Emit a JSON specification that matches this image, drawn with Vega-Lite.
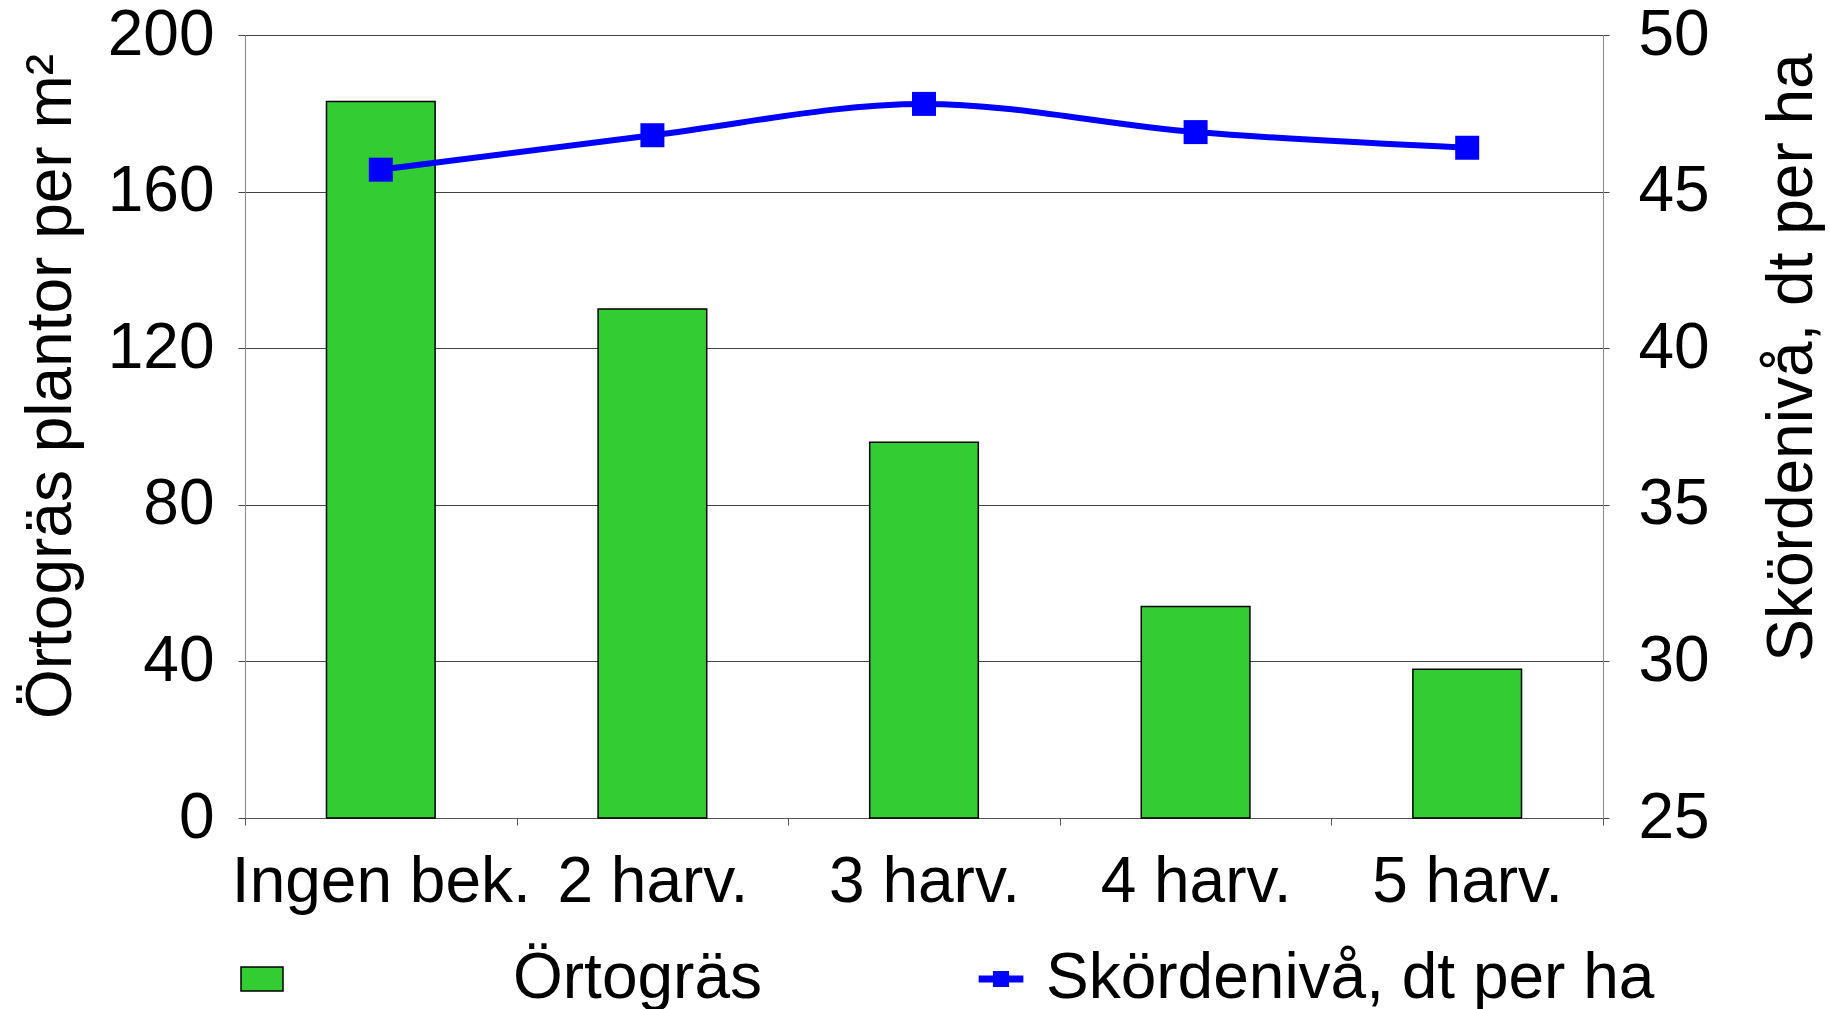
{
  "$schema": "https://vega.github.io/schema/vega-lite/v6.json",
  "width": 1358,
  "height": 783,
  "autosize": {"type": "none"},
  "padding": {"left": 245, "top": 35, "right": 226, "bottom": 191},
  "background": "white",
  "config": {
    "view": {"stroke": null},
    "font": "Liberation Sans",
    "axis": {"labelFont": "Liberation Sans", "titleFont": "Liberation Sans", "labelColor": "#000", "titleColor": "#000", "titleFontWeight": "normal"},
    "legend": {"labelFont": "Liberation Sans", "labelFontSize": 64, "labelColor": "#000", "padding": 0, "labelLimit": 1000}
  },
  "data": {
    "values": [
      {"k": "Ingen bek.", "o": 183, "s": 45.7},
      {"k": "2 harv.", "o": 130, "s": 46.8},
      {"k": "3 harv.", "o": 96, "s": 47.8},
      {"k": "4 harv.", "o": 54, "s": 46.9},
      {"k": "5 harv.", "o": 38, "s": 46.4}
    ]
  },
  "encoding": {
    "x": {
      "field": "k",
      "type": "nominal",
      "sort": null,
      "scale": {"paddingInner": 0, "paddingOuter": 0},
      "axis": {
        "title": null,
        "labelAngle": 0,
        "tickBand": "extent",
        "labelFontSize": 64,
        "labelPadding": 25,
        "tickSize": 7,
        "tickColor": "#555",
        "domainColor": "#555",
        "grid": false,
        "labelOverlap": false,
        "labelBound": false,
        "labelFlush": false,
        "labelLimit": 1000
      }
    }
  },
  "layer": [
    {
      "mark": {"type": "bar", "width": {"band": 0.4}, "stroke": "#000", "strokeWidth": 1.5},
      "encoding": {
        "y": {
          "field": "o",
          "type": "quantitative",
          "scale": {"domain": [0, 200], "nice": false},
          "axis": {
            "title": "Örtogräs plantor per m²",
            "values": [0, 40, 80, 120, 160, 200],
            "grid": true,
            "gridColor": "#444",
            "gridWidth": 1,
            "domainColor": "#888",
            "tickColor": "#444",
            "tickSize": 7,
            "labelFontSize": 64,
            "labelPadding": 24,
            "titleFontSize": 64,
            "titleAngle": 270,
            "titleX": -175,
            "titleY": 351,
            "titleAlign": "center",
            "titleBaseline": "alphabetic",
            "titleLimit": 2000
          }
        },
        "fill": {
          "datum": "Örtogräs",
          "scale": {"range": ["#33CC33"]},
          "legend": {
            "title": null,
            "orient": "none",
            "legendX": -15,
            "legendY": 912,
            "symbolType": "M-1,-0.571H1V0.571H-1Z",
            "symbolSize": 1764,
            "symbolStrokeColor": "#000",
            "symbolStrokeWidth": 1.5,
            "labelOffset": 219
          }
        }
      }
    },
    {
      "layer": [
        {
          "mark": {"type": "line", "color": "#0000FF", "strokeWidth": 6, "interpolate": "monotone"},
          "encoding": {
            "y": {
              "field": "s",
              "type": "quantitative",
              "scale": {"domain": [25, 50], "nice": false, "zero": false},
              "axis": {
                "orient": "right",
                "title": "Skördenivå, dt per ha",
                "values": [25, 30, 35, 40, 45, 50],
                "grid": false,
                "domainColor": "#888",
                "tickColor": "#444",
                "tickSize": 6,
                "labelFontSize": 64,
                "labelPadding": 29,
                "titleFontSize": 64,
                "titleAngle": 270,
                "titleX": 208,
                "titleY": 322,
                "titleAlign": "center",
                "titleBaseline": "alphabetic",
                "titleLimit": 2000
              }
            }
          }
        },
        {
          "mark": {"type": "point", "filled": true, "shape": "square", "size": 576, "opacity": 1},
          "encoding": {
            "y": {"field": "s", "type": "quantitative"},
            "color": {
              "datum": "Skördenivå, dt per ha",
              "scale": {"range": ["#0000FF"]},
              "legend": {
                "title": null,
                "orient": "none",
                "legendX": 724,
                "legendY": 912,
                "symbolType": "M-1,-0.16H1V0.16H-1Z M-0.36,-0.36H0.36V0.36H-0.36Z",
                "symbolSize": 2000,
                "symbolStrokeWidth": 0,
                "symbolOpacity": 1,
                "labelOffset": 13
              }
            }
          }
        }
      ]
    }
  ],
  "resolve": {"scale": {"y": "independent"}}
}
